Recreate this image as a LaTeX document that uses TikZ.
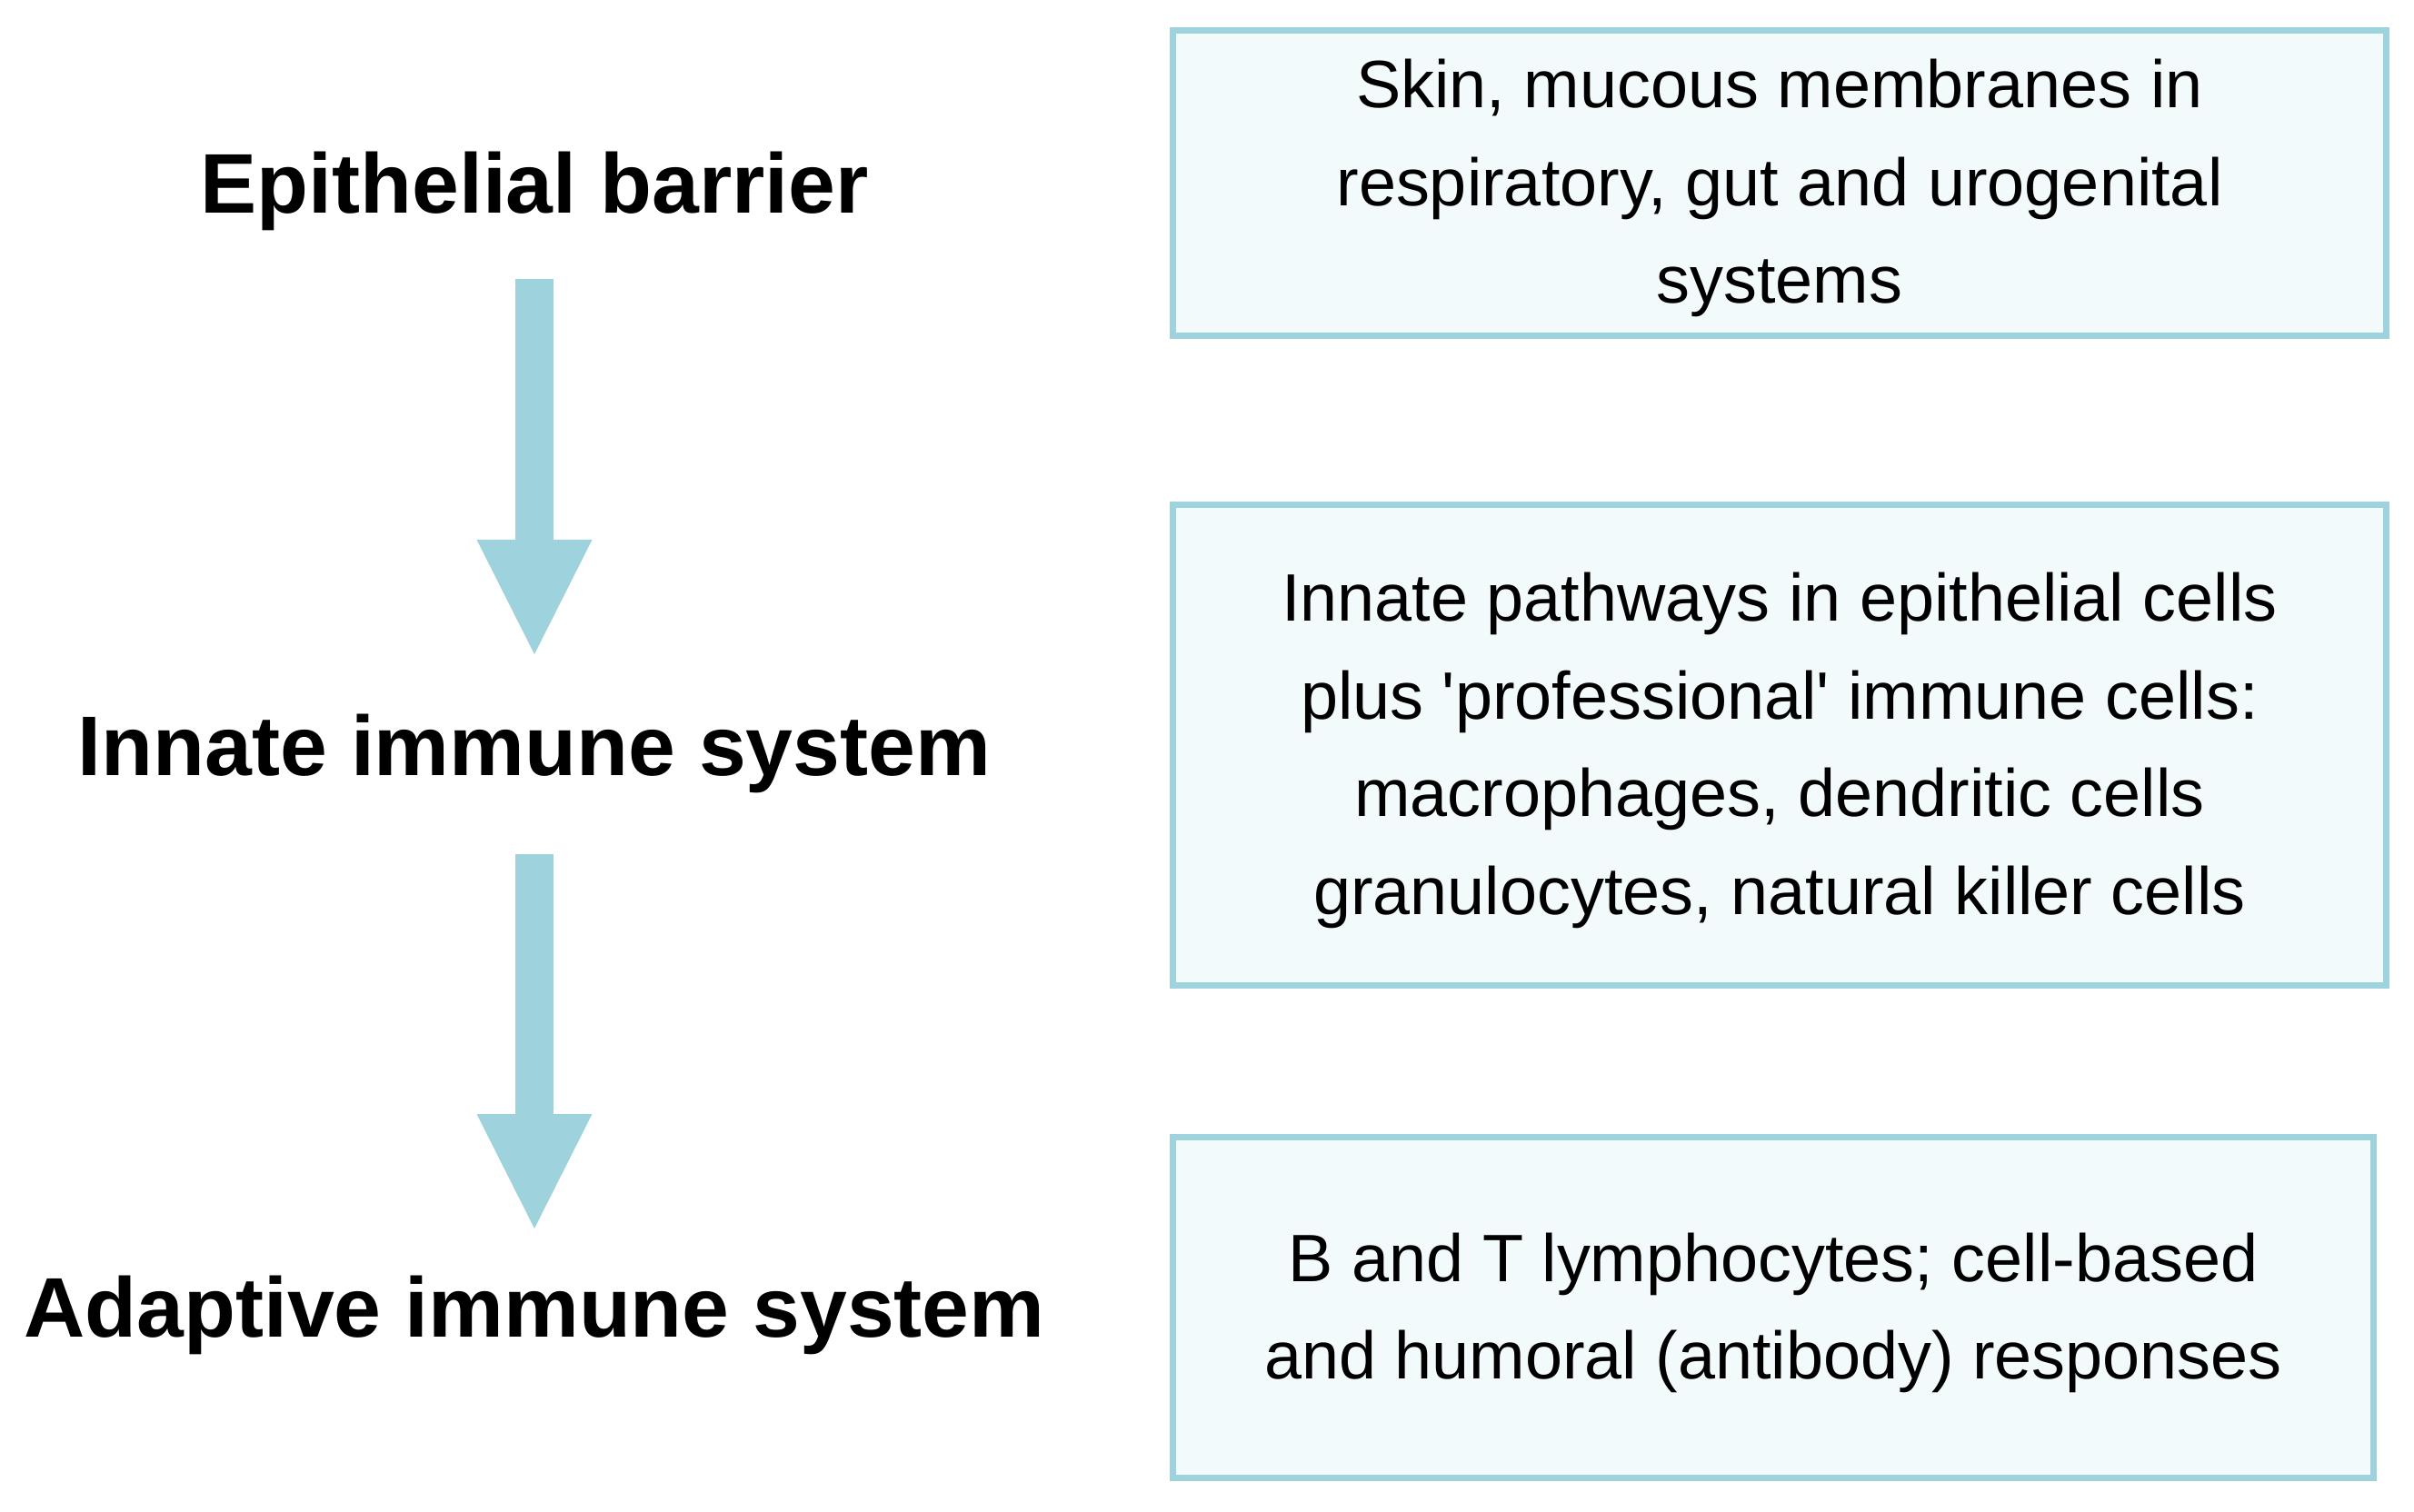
\documentclass[tikz,border=0pt]{standalone}
\usepackage{fontspec}
\setmainfont{Liberation Sans}
\usepackage{tikz}
\usetikzlibrary{positioning,arrows.meta}
\definecolor{accent}{HTML}{9ED3DD}
\definecolor{accentbg}{HTML}{F3FAFC}
\newcommand{\topstrut}{\rule{0pt}{18.5pt}}

\begin{document}
\begin{tikzpicture}[
    stage/.style={font=\fontsize{26.5}{30}\selectfont\bfseries, inner sep=0pt},
    infobox/.style={draw=accent, fill=accentbg, line width=2pt, minimum width=13.35cm,
      align=center, inner sep=0pt, font=\fontsize{21}{30.6}\selectfont},
    flow/.style={draw=accent, line width=0.42cm,
      -{Triangle[width=1.27cm,length=1.26cm,line width=0pt]}}
  ]
    \useasboundingbox (0,0) rectangle (26.56,-16.64);
    \node[stage] (epi) at (5.88,-2.10) {Epithelial barrier};
    \node[stage] (innate) at (5.88,-8.29) {Innate immune system};
    \node[stage] (adaptive) at (5.88,-14.47) {Adaptive immune system};
    \node[infobox, minimum height=3.36cm] (skin) at (19.58,-2.015)
      {\topstrut Skin, mucous membranes in\\respiratory, gut and urogenital\\systems};
    \node[infobox, minimum height=5.29cm] (paths) at (19.58,-8.20)
      {\topstrut Innate pathways in epithelial cells\\plus \textquotesingle professional\textquotesingle\ immune cells:\\macrophages, dendritic cells\\granulocytes, natural killer cells};
    \node[infobox, minimum height=3.75cm, minimum width=13.21cm] (lympho) at (19.51,-14.39)
      {\topstrut B and T lymphocytes; cell-based\\and humoral (antibody) responses};
    \draw[flow, shorten <=0.97cm, shorten >=1.09cm] (epi.center) -- (innate.center);
    \draw[flow, shorten <=1.11cm, shorten >=0.95cm] (innate.center) -- (adaptive.center);
  \end{tikzpicture}
\end{document}
